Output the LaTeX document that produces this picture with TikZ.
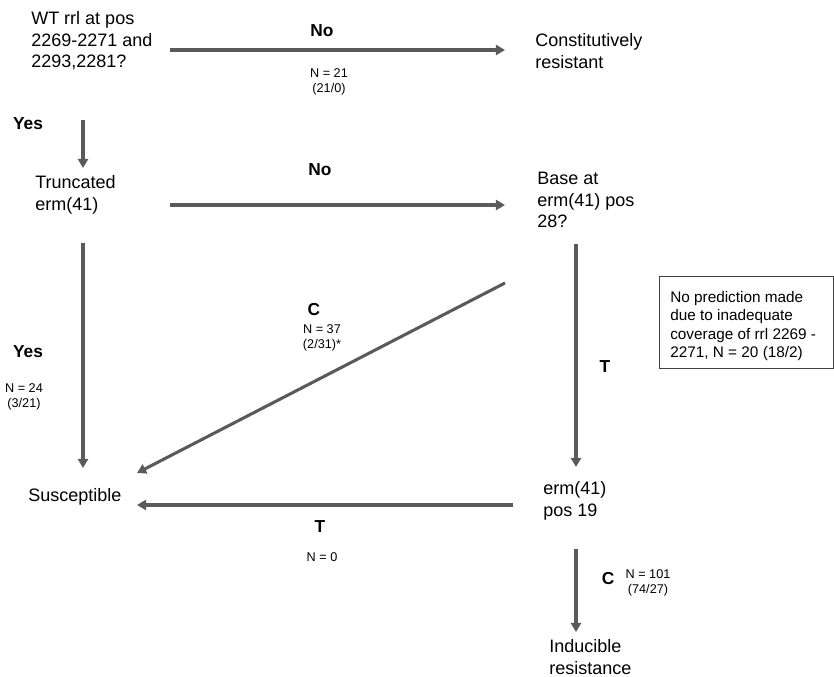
\documentclass[tikz,border=0pt]{standalone}
\usepackage{fontspec}
\setmainfont{Liberation Sans}
\usetikzlibrary{arrows.meta}
\definecolor{arrgray}{HTML}{5A5A5A}
\begin{document}
\begin{tikzpicture}[x=0.75pt,y=-0.75pt,
  txt/.style={anchor=west,inner sep=0pt,align=left,font=\fontsize{13.5}{16.2}\selectfont},
  lbl/.style={inner sep=0pt,font=\fontsize{13}{15}\selectfont\bfseries},
  small/.style={inner sep=0pt,align=center,font=\fontsize{9.5}{11.2}\selectfont},
  arr/.style={draw=arrgray,line width=2.3pt,-{Triangle[length=6.8pt,width=7.5pt]}},
  notebox/.style={draw=black!75,line width=0.6pt}]
\useasboundingbox (0,0) rectangle (834,677);

% text nodes
\node[txt] (q1) at (31,41) {WT rrl at pos\\2269-2271 and\\2293,2281?};
\node[txt] (cr) at (535,51) {Constitutively\\resistant};
\node[lbl] (yes1) at (28,124) {Yes};
\node[txt] (tr) at (35,195) {Truncated\\erm(41)};
\node[txt] (base) at (537,200) {Base at\\erm(41) pos\\28?};
\node[lbl] (no1) at (322,31) {No};
\node[small] (n21) at (329,82) {N = 21\\(21/0)};
\node[lbl] (no2) at (320,170) {No};
\node[lbl] (yes2) at (28,352) {Yes};
\node[small] (n24) at (24,397) {N = 24\\(3/21)};
\node[lbl] (c1) at (314,310) {C};
\node[small] (n37) at (322,338) {N = 37\\(2/31)*};
\node[lbl] (t1) at (605,367) {T};
\node[txt] (sus) at (28,497) {Susceptible};
\node[lbl] (t2) at (320,527) {T};
\node[small] (n0) at (322,557) {N = 0};
\node[txt] (erm19) at (543,501) {erm(41)\\pos 19};
\node[lbl] (c2) at (608,579) {C};
\node[small] (n101) at (648,583) {N = 101\\(74/27)};
\node[txt] (ind) at (549,657) {Inducible\\resistance};

% note box
\draw[notebox] (659,276) rectangle (833,368);
\node[anchor=west,inner sep=0pt,align=left,font=\fontsize{11.5}{13.9}\selectfont] (note) at (670,326)
  {No prediction made\\due to inadequate\\coverage of rrl 2269 -\\2271, N = 20 (18/2)};

% connector end points
\coordinate (a1s) at (170,50);  \coordinate (a1e) at (505,50);
\coordinate (a2s) at (83,120);  \coordinate (a2e) at (83,168);
\coordinate (a3s) at (170,205); \coordinate (a3e) at (505,205);
\coordinate (a4s) at (83,243);  \coordinate (a4e) at (83,468);
\coordinate (a5s) at (505,283); \coordinate (a5e) at (137,473);
\coordinate (a6s) at (576,244); \coordinate (a6e) at (576,467);
\coordinate (a7s) at (513,505); \coordinate (a7e) at (137,505);
\coordinate (a8s) at (576,549); \coordinate (a8e) at (576,632);

\draw[arr] (a1s) -- (a1e);
\draw[arr] (a2s) -- (a2e);
\draw[arr] (a3s) -- (a3e);
\draw[arr] (a4s) -- (a4e);
\draw[arr] (a5s) -- (a5e);
\draw[arr] (a6s) -- (a6e);
\draw[arr] (a7s) -- (a7e);
\draw[arr] (a8s) -- (a8e);
\end{tikzpicture}
\end{document}
